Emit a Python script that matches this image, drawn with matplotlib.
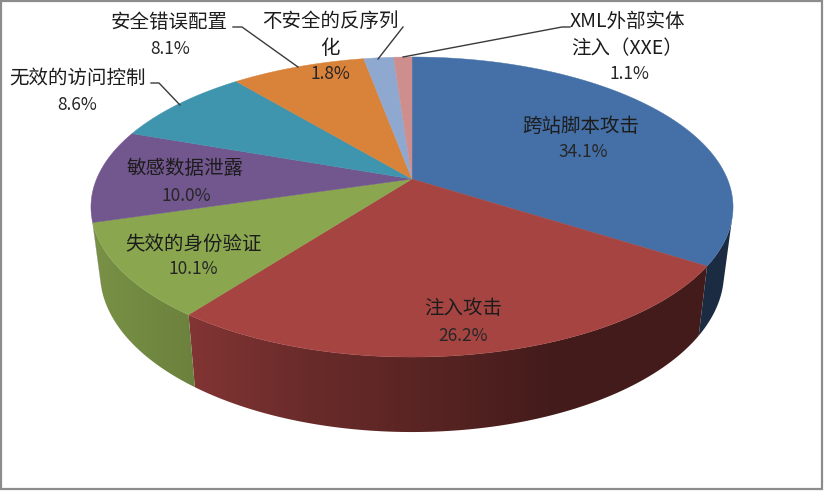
import numpy as np
import matplotlib
matplotlib.use('Agg')
import matplotlib.pyplot as plt
from matplotlib.patches import Polygon, Rectangle

plt.rcParams['font.family'] = ['Noto Sans CJK SC', 'DejaVu Sans']

labels = ['跨站脚本攻击', '注入攻击', '失效的身份验证', '敏感数据泄露',
          '无效的访问控制', '安全错误配置', '不安全的反序列\n化', 'XML外部实体\n注入（XXE）']
values = [34.1, 26.2, 10.1, 10.0, 8.6, 8.1, 1.8, 1.1]
colors = ['#4470a7', '#a64442', '#8aa64f', '#72568e',
          '#3f95ad', '#d98239', '#8fa8cf', '#cf8e8e']

# centre of each name, and of the percent text below it
label_pos = [(581, 126), (463, 309), (193, 244), (185, 169),
             (77, 78), (169, 22), (330, 35), (627, 35)]
pct_pos = [(583, 152), (463, 336), (193, 269), (186, 196),
           (77, 105), (170, 49), (330, 74), (629, 74)]

leaders = [
    [(233, 27), (242, 27), (298, 67)],
    [(151, 83), (159, 83), (180, 105)],
    [(403, 27), (378, 59)],
    [(570, 27), (562, 27), (403, 57)],
]

# side wall darkens towards the right
shade_x = [100, 190, 300, 440, 560, 730]
shade_f = [0.87, 0.78, 0.64, 0.52, 0.40, 0.40]

PERSP = 0.1867
WALL_FROM, WALL_TO = 105, 255


def project(theta, cx, cy, a, b):
    """theta in degrees, clockwise from the back of the pie"""
    t = np.radians(theta)
    u, w = np.sin(t), -np.cos(t)
    d = 1 - PERSP * w
    return cx + a * u / d, cy + b * w / d


def top_ring(theta):
    return project(theta, 412, 179, 315.4, 144.8)


def bottom_ring(theta):
    return project(theta, 412, 243.3, 306.5, 153.5)


fig = plt.figure(figsize=(8.24, 4.91), dpi=100)
ax = fig.add_axes([0, 0, 1, 1])

edges = np.concatenate([[0], np.cumsum(values)]) * 3.6
edges[-1] = 360

# side walls, gradient image clipped to each slice's wall
grid_x = np.arange(0, 825)
shade = np.interp(grid_x, shade_x, shade_f)
for start, end, col in zip(edges[:-1], edges[1:], colors):
    lo, hi = max(start, WALL_FROM), min(end, WALL_TO)
    if hi <= lo:
        continue
    th = np.linspace(lo, hi, 150)
    xt, yt = top_ring(th)
    xb, yb = bottom_ring(th[::-1])
    wall = Polygon(np.c_[np.r_[xt, xb], np.r_[yt, yb]], closed=True,
                   transform=ax.transData, fc='none', ec='none')
    ax.add_patch(wall)
    base = np.array(matplotlib.colors.to_rgb(col))
    grad = shade[None, :, None] * base[None, None, :]
    im = ax.imshow(grad, extent=(0, 824, 491, 0), aspect='auto',
                   interpolation='bilinear', zorder=2)
    im.set_clip_path(wall)

# top face
for start, end, col in zip(edges[:-1], edges[1:], colors):
    th = np.linspace(start, end, 120)
    xs, ys = top_ring(th)
    ax.fill(np.r_[412, xs], np.r_[179, ys], color=col, lw=0.3, zorder=3)

for line in leaders:
    xs, ys = zip(*line)
    ax.plot(xs, ys, color='#3a3a3a', lw=1.0, zorder=4)

for name, val, lp, pp in zip(labels, values, label_pos, pct_pos):
    ax.text(lp[0], lp[1], name, ha='center', va='center', fontsize=14,
            color='#1c1c1c', linespacing=1.36, zorder=5)
    ax.text(pp[0], pp[1], f'{val:.1f}%', ha='center', va='center',
            fontsize=12.5, color='#262626', zorder=5)

# picture frame
ax.add_patch(Rectangle((1, 1), 821.5, 488, fill=False, ec='#8c8c8c', lw=1.6, zorder=6))

ax.set_xlim(0, 824)
ax.set_ylim(491, 0)
ax.axis('off')

fig.savefig('out.png', dpi=100)
